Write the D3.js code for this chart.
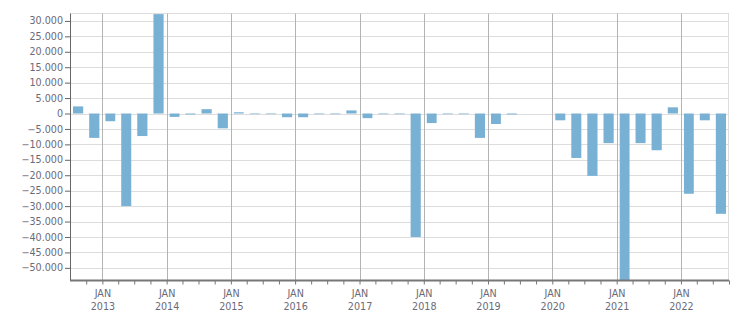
<!DOCTYPE html>
<html><head><meta charset="utf-8">
<script src="https://cdn.jsdelivr.net/npm/d3@7"></script>
<style>
html,body{margin:0;padding:0;background:#fff;}
svg{display:block;font-family:"DejaVu Sans",Verdana,sans-serif;}
</style></head>
<body><svg id="c" width="751" height="313"></svg>
<script>
// Quarterly periods (start of quarter) and values
const quarters = ["2012-07","2012-10","2013-01","2013-04","2013-07","2013-10","2014-01","2014-04","2014-07","2014-10",
"2015-01","2015-04","2015-07","2015-10","2016-01","2016-04","2016-07","2016-10","2017-01","2017-04","2017-07","2017-10",
"2018-01","2018-04","2018-07","2018-10","2019-01","2019-04","2019-07","2019-10","2020-01","2020-04","2020-07","2020-10",
"2021-01","2021-04","2021-07","2021-10","2022-01","2022-04","2022-07"];
const values = [2300,-7900,-2500,-30000,-7300,32200,-1100,-300,1400,-4800,
400,-200,-200,-1200,-1200,-200,-200,1000,-1500,-200,-200,-40000,
-3100,-200,-200,-7900,-3400,-300,0,0,-2200,-14400,-20200,-9600,
-54100,-9600,-11900,2000,-26000,-2200,-32500];
const yTicks = [-50000,-45000,-40000,-35000,-30000,-25000,-20000,-15000,-10000,-5000,0,5000,10000,15000,20000,25000,30000];
const xTickYears = [2013,2014,2015,2016,2017,2018,2019,2020,2021,2022];
const xTopLabel = "JAN";

const svg = d3.select("#c");
const L = 70, R = 729, T = 13.5, B = 280.5;
const parse = d3.timeParse("%Y-%m");
const x = d3.scaleTime().domain([new Date(2012,6,1), new Date(2022,9,1)]).range([L, R]);
const y = d3.scaleLinear().domain([-54100, 32400]).range([B, T]);
const fmt = v => d3.format(",")(v).replace(/,/g, ".");

// horizontal grid
svg.append("g").selectAll("line").data(yTicks).join("line")
  .attr("x1", L).attr("x2", R).attr("y1", d => Math.round(y(d)) + 0.5).attr("y2", d => Math.round(y(d)) + 0.5)
  .attr("stroke", "#dddddd").attr("stroke-width", 1);
// top and right border
svg.append("line").attr("x1", L).attr("x2", R).attr("y1", 13.5).attr("y2", 13.5).attr("stroke", "#dddddd");
svg.append("line").attr("x1", R - 0.5).attr("x2", R - 0.5).attr("y1", T).attr("y2", B).attr("stroke", "#dddddd");
// vertical year grid
const yearDates = xTickYears.map(yr => new Date(yr, 0, 1));
svg.append("g").selectAll("line").data(yearDates).join("line")
  .attr("x1", d => Math.round(x(d)) + 0.5).attr("x2", d => Math.round(x(d)) + 0.5)
  .attr("y1", T).attr("y2", B).attr("stroke", "#b4b4b4").attr("stroke-width", 1);

// bars
svg.append("clipPath").attr("id", "clip").append("rect").attr("x", L).attr("y", T).attr("width", R - L).attr("height", B - T);
const data = quarters.map((q, i) => ({ start: parse(q), end: d3.timeMonth.offset(parse(q), 3), v: values[i] }));
svg.append("g").attr("clip-path", "url(#clip)").selectAll("rect").data(data.filter(d => d.v !== 0)).join("rect")
  .attr("x", d => x(d.start) + 3)
  .attr("width", d => x(d.end) - x(d.start) - 6)
  .attr("y", d => y(Math.max(0, d.v)))
  .attr("height", d => Math.abs(y(d.v) - y(0)))
  .attr("fill", "#78b1d3");

// y axis
const yAxis = svg.append("g").attr("transform", `translate(${L},0)`)
  .call(d3.axisLeft(y).tickValues(yTicks).tickFormat(fmt).tickSize(5).tickPadding(2));
yAxis.select(".domain").attr("d", `M0.5,${T}V${B}`).attr("stroke", "#666").attr("stroke-width", 1);
yAxis.selectAll(".tick line").attr("stroke", "#666");
yAxis.selectAll(".tick text").attr("fill", "#6b6a78").attr("font-size", "9.6px").attr("font-family", "DejaVu Sans, Verdana, sans-serif");

// x axis
const qTicks = d3.timeMonth.every(3).range(new Date(2012, 9, 1), new Date(2022, 9, 2));
const xAxis = svg.append("g").attr("transform", `translate(0,${B})`)
  .call(d3.axisBottom(x).tickValues(qTicks).tickSize(4).tickFormat(""));
xAxis.select(".domain").attr("d", `M${L},0H${R}`).attr("stroke", "#777").attr("stroke-width", 2);
xAxis.selectAll(".tick line").attr("stroke", "#777");
const lab = svg.append("g").attr("fill", "#6b6a78").attr("font-size", "9.6px").attr("text-anchor", "middle");
lab.selectAll("text.m").data(yearDates).join("text").attr("class", "m")
  .attr("x", d => x(d) + 0.5).attr("y", 297).text(xTopLabel);
lab.selectAll("text.y").data(yearDates).join("text").attr("class", "y")
  .attr("x", d => x(d) + 0.5).attr("y", 310).text(d => d.getFullYear());
</script></body></html>
